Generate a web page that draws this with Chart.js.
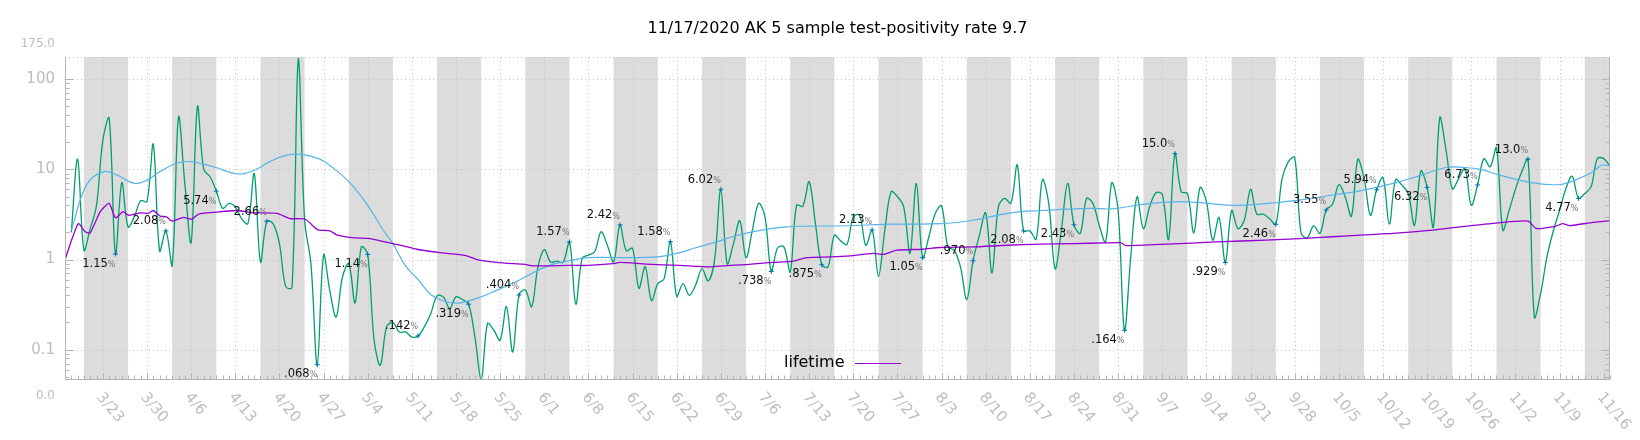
<!DOCTYPE html>
<html>
<head>
<meta charset="utf-8">
<script src="https://cdn.jsdelivr.net/npm/chart.js@4.4.1/dist/chart.umd.min.js"></script>
<style>
  html, body { margin: 0; padding: 0; background: #fff; }
  canvas { display: block; }
</style>
</head>
<body>
<canvas id="chart" width="1640" height="440" style="width:1640px;height:440px"></canvas>
<script>
// days counted from 3/17/2020 (day 0) to 11/17/2020 (day 245)
const DAY_MAX = 245;

// 5 sample test-positivity rate, one value per day (day 0 has none)
const sampleRate = [
  null, 2.0, 13, 1.27, 2.2, 4.0, 21, 37, 1.15, 7.1,
  2.3, 3.0, 4.5, 4.4, 19, 1.24, 2.08, 0.86, 38, 7,
  1.55, 50, 10, 8.3, 5.74, 3.7, 4.2, 3.85, 2.85, 2.5,
  9.0, 0.94, 2.66, 2.5, 1.5, 0.5, 0.49, 170, 2.7, 0.9,
  0.068, 1.12, 0.45, 0.23, 0.64, 0.9, 0.33, 1.38, 1.14, 0.13,
  0.067, 0.18, 0.2, 0.157, 0.157, 0.138, 0.142, 0.18, 0.25, 0.395,
  0.385, 0.285, 0.385, 0.36, 0.319, 0.138, 0.046, 0.195, 0.164, 0.127,
  0.30, 0.094, 0.404, 0.46, 0.30, 0.83, 1.29, 0.94, 0.96, 0.93,
  1.57, 0.32, 1.03, 1.12, 1.22, 2.03, 1.44, 0.94, 2.42, 1.25,
  1.33, 0.48, 0.83, 0.35, 0.54, 0.61, 1.58, 0.39, 0.54, 0.40,
  0.52, 0.79, 0.58, 0.98, 6.02, 0.90, 1.5, 2.69, 1.05, 2.12,
  4.2, 2.98, 0.738, 1.35, 1.38, 0.73, 4.0, 3.9, 7.3, 2.5,
  0.875, 0.83, 1.86, 1.61, 1.47, 2.98, 3.1, 1.44, 2.13, 0.65,
  2.1, 5.65, 5.0, 3.85, 1.17, 7.0, 1.05, 1.8, 3.25, 3.95,
  1.38, 1.27, 0.83, 0.36, 0.970, 1.86, 3.3, 0.71, 3.85, 4.76,
  4.2, 11.2, 2.08, 2.08, 1.68, 7.7, 4.2, 0.79, 2.12, 7.0,
  2.43, 1.95, 4.76, 4.2, 2.4, 1.57, 7.1, 3.5, 0.164, 1.07,
  4.97, 2.2, 3.85, 5.5, 5.3, 1.67, 15.0, 5.65, 5.4, 1.98,
  6.3, 4.4, 1.64, 2.93, 0.929, 3.5, 2.2, 2.73, 6.0, 3.19,
  3.19, 2.85, 2.46, 7.9, 12.2, 13.6, 1.98, 1.74, 2.37, 1.95,
  3.55, 4.1, 6.77, 4.97, 3.03, 12.9, 8.0, 3.1, 5.94, 8.1,
  2.47, 7.7, 6.7, 5.4, 2.4, 9.6, 6.32, 2.3, 37.5, 16.4,
  6.1, 7.9, 10.2, 4.0, 6.73, 13.2, 10.7, 17.4, 2.12, 3.5,
  6.0, 9.4, 13.0, 0.23, 0.42, 1.07, 2.06, 3.5, 6.1, 8.4,
  4.77, 5.4, 6.4, 13.2, 13.2, 10.9
];

// smoothed rate, [day, value]
const smoothRate = [
  [1, 2.1], [3.4, 6.7], [6, 9.4], [8.2, 8.7], [11, 7.0], [13, 7.6], [15, 9.4],
  [17.7, 11.7], [20, 12.2], [23.5, 10.7], [27.5, 8.9], [30, 9.8], [32.5, 12.2],
  [35, 14.3], [37.5, 14.7], [40.4, 13], [42.5, 10.4], [45.2, 7.1], [48, 4],
  [50.5, 2.1], [52, 1.5], [54, 0.85], [56, 0.6], [58, 0.41], [60.5, 0.34],
  [62.7, 0.33], [65.3, 0.37], [68, 0.44], [72, 0.59], [76.4, 0.84], [80, 0.97],
  [83, 1.05], [87, 1.05], [94, 1.07], [97, 1.17], [100, 1.35], [103.3, 1.57],
  [106, 1.8], [109, 2.03], [114.5, 2.3], [124, 2.37], [131, 2.47], [139, 2.5],
  [144, 2.73], [150, 3.3], [155, 3.5], [162.5, 3.7], [166, 3.65], [171, 4.1],
  [177, 4.4], [185, 4.0], [189, 4.1], [196, 4.6], [201, 5.2], [206, 5.9],
  [210.6, 7.0], [215, 8.6], [219, 10.5], [222, 10.5], [224.5, 10.0], [227.6, 8.6],
  [232.8, 7.1], [237, 6.8], [240, 7.9], [242.3, 9.4], [243.7, 11.2], [245, 10.9]
];

// lifetime rate, [day, value]
const lifetimeRate = [
  [0, 1.0], [2.1, 2.5], [3.2, 2.03], [4, 1.98], [5.6, 3.4], [7, 4.2], [8, 2.9],
  [9.2, 3.4], [10.1, 3.1], [12, 3.3], [13.2, 3.25], [14, 3.5], [15.1, 3.03],
  [16.1, 2.98], [17, 2.67], [18.8, 2.93], [20.1, 2.8], [21.2, 3.2], [23.5, 3.33],
  [27.2, 3.5], [30, 3.3], [33.6, 3.25], [35.7, 2.85], [38.1, 2.8], [40, 2.15],
  [42, 2.08], [43.1, 1.88], [45.5, 1.75], [48.4, 1.71], [50, 1.61], [53.6, 1.42],
  [55.8, 1.3], [58.4, 1.22], [60.5, 1.17], [63.7, 1.1], [65.3, 1.0], [68.4, 0.93],
  [71.1, 0.9], [72.7, 0.89], [74.3, 0.85], [80, 0.86], [83, 0.86], [86.9, 0.9],
  [88, 0.93], [92.2, 0.89], [97.5, 0.86], [102.3, 0.83], [104.4, 0.85], [108, 0.88],
  [112.3, 0.93], [115.5, 0.96], [117.6, 1.05], [121.3, 1.07], [124.5, 1.1],
  [128.2, 1.17], [129.8, 1.14], [131.9, 1.27], [136, 1.3], [138.7, 1.36], [144, 1.38],
  [149.3, 1.44], [154.6, 1.48], [159.9, 1.5], [165, 1.53], [167.5, 1.53],
  [168.2, 1.43], [174.7, 1.48], [182.6, 1.57], [190.5, 1.64], [195.8, 1.71],
  [201, 1.79], [206, 1.88], [210.6, 1.95], [216.9, 2.12], [221.2, 2.3], [227.3, 2.55],
  [232, 2.67], [233.3, 2.21], [236.4, 2.35], [237.5, 2.5], [238.6, 2.38],
  [242.3, 2.58], [245, 2.7]
];

// days that carry a value label
const markerDays = [8, 16, 24, 32, 40, 48, 56, 64, 72, 80, 88, 96, 104, 112, 120,
  128, 136, 144, 152, 160, 168, 176, 184, 192, 200, 208, 216, 224, 232, 240];

const tickDays = [6, 13, 20, 27, 34, 41, 48, 55, 62, 69, 76, 83, 90, 97, 104, 111,
  118, 125, 132, 139, 146, 153, 160, 167, 174, 181, 188, 195, 202, 209, 216, 223,
  230, 237, 244];
const tickLabels = ['3/23', '3/30', '4/6', '4/13', '4/20', '4/27', '5/4', '5/11',
  '5/18', '5/25', '6/1', '6/8', '6/15', '6/22', '6/29', '7/6', '7/13', '7/20', '7/27',
  '8/3', '8/10', '8/17', '8/24', '8/31', '9/7', '9/14', '9/21', '9/28', '10/5',
  '10/12', '10/19', '10/26', '11/2', '11/9', '11/16'];

const yTicks = [0.1, 1, 10, 100];
const yTickLabels = ['0.1', '1', '10', '100'];
const Y_MIN = 0.046, Y_MAX = 177;

const FONT = '"DejaVu Sans", "Liberation Sans", sans-serif';

function fmtRate(v){
  return v >= 1 ? v.toPrecision(3) : v.toFixed(3).replace(/^0/, "");
}

const frame = {
  id: "frame",
  beforeDraw(chart){
    const c = chart.ctx;
    c.save();
    c.fillStyle = "#fff";
    c.fillRect(0, 0, chart.width, chart.height);
    c.restore();
  },
  beforeDatasetsDraw(chart){
    const c = chart.ctx, a = chart.chartArea;
    const xs = chart.scales.x, ys = chart.scales.y;
    c.save();
    // alternate week shading
    c.fillStyle = "#dcdcdc";
    for(let s = 3; s < DAY_MAX; s += 14){
      const x0 = xs.getPixelForValue(s);
      const x1 = xs.getPixelForValue(Math.min(s + 7, DAY_MAX));
      c.fillRect(x0, a.top, x1 - x0, a.bottom - a.top);
    }
    // dotted grid
    c.strokeStyle = "#c2c2c2";
    c.lineWidth = 1;
    c.setLineDash([1, 3]);
    c.beginPath();
    tickDays.forEach(d => {
      const x = Math.round(xs.getPixelForValue(d)) + 0.5;
      c.moveTo(x, a.top); c.lineTo(x, a.bottom);
    });
    yTicks.concat([Y_MAX]).forEach(v => {
      const y = Math.round(ys.getPixelForValue(v)) + 0.5;
      c.moveTo(a.left, y); c.lineTo(a.right, y);
    });
    c.stroke();
    c.restore();
  },
  afterDatasetsDraw(chart){
    const c = chart.ctx, a = chart.chartArea;
    const xs = chart.scales.x, ys = chart.scales.y;
    c.save();

    // markers and value labels
    markerDays.forEach(d => {
      const v = sampleRate[d];
      const px = xs.getPixelForValue(d), py = ys.getPixelForValue(v);
      c.strokeStyle = "#0072b2";
      c.lineWidth = 1;
      c.beginPath();
      c.moveTo(px - 2.5, py); c.lineTo(px + 2.5, py);
      c.moveTo(px, py - 2.5); c.lineTo(px, py + 2.5);
      c.stroke();

      const above = v >= sampleRate[d - 1];
      const ty = py + (above ? -9.5 : 9.5);
      c.textBaseline = "middle";
      c.textAlign = "right";
      c.font = "8px " + FONT;
      c.fillStyle = "#777";
      c.fillText("%", px, ty + 1);
      const pw = c.measureText("%").width;
      c.font = "11.5px " + FONT;
      c.fillStyle = "#111";
      c.fillText(fmtRate(v), px - pw, ty);
    });

    // frame
    c.strokeStyle = "#b4b4b4";
    c.lineWidth = 1;
    c.beginPath();
    const L = Math.round(a.left) + 0.5, R = Math.round(a.right) - 0.5, B = Math.round(a.bottom) - 0.5;
    c.moveTo(L, a.top); c.lineTo(L, B); c.lineTo(R, B); c.lineTo(R, a.top);
    // day ticks
    for(let d = 0; d <= DAY_MAX; d++){
      const x = Math.round(xs.getPixelForValue(d)) + 0.5;
      const len = tickDays.includes(d) ? 6 : 4;
      c.moveTo(x, B); c.lineTo(x, B - len);
    }
    // log ticks on both sides
    for(let e = -2; e <= 2; e++){
      for(let m = 1; m <= 9; m++){
        const v = m * Math.pow(10, e);
        if(v < Y_MIN || v > Y_MAX) continue;
        const y = Math.round(ys.getPixelForValue(v)) + 0.5;
        const len = m === 1 ? 8 : 4;
        c.moveTo(L, y); c.lineTo(L + len, y);
        c.moveTo(R, y); c.lineTo(R - len, y);
      }
    }
    c.stroke();

    // y labels
    c.fillStyle = "#bdbdbd";
    c.textAlign = "right";
    c.textBaseline = "middle";
    c.font = "15px " + FONT;
    yTicks.forEach((v, i) => {
      c.fillText(yTickLabels[i], a.left - 10, ys.getPixelForValue(v));
    });
    c.font = "12px " + FONT;
    c.fillText("175.0", a.left - 10, a.top - 13);
    c.fillText("0.0", a.left - 10, a.bottom + 16);

    // x labels, rotated down to the right
    c.font = "15px " + FONT;
    c.textAlign = "left";
    c.textBaseline = "top";
    tickDays.forEach((d, i) => {
      c.save();
      c.translate(xs.getPixelForValue(d) + 2, a.bottom + 10);
      c.rotate(50 * Math.PI / 180);
      c.fillText(tickLabels[i], 0, 0);
      c.restore();
    });

    // legend entry
    c.font = "16px " + FONT;
    c.fillStyle = "#000";
    c.textAlign = "left";
    c.textBaseline = "middle";
    c.fillText("lifetime", 784, 363);
    c.strokeStyle = "#9400d3";
    c.lineWidth = 1.2;
    c.beginPath();
    c.moveTo(855, 363.5); c.lineTo(901, 363.5);
    c.stroke();

    // title
    c.font = "16px " + FONT;
    c.textAlign = "center";
    c.fillText("11/17/2020 AK 5 sample test-positivity rate 9.7", (a.left + a.right) / 2, 29);
    c.restore();
  }
};

const samplePoints = [];
sampleRate.forEach((v, d) => { if(v !== null) samplePoints.push({x: d, y: v}); });

new Chart(document.getElementById("chart"), {
  type: "line",
  data: {
    datasets: [
      {
        label: "lifetime",
        data: lifetimeRate.map(p => ({x: p[0], y: p[1]})),
        borderColor: "#9400d3",
        borderWidth: 1.3,
        pointRadius: 0,
        tension: 0.2,
        order: 1
      },
      {
        label: "smoothed",
        data: smoothRate.map(p => ({x: p[0], y: p[1]})),
        borderColor: "#56b4e9",
        borderWidth: 1.2,
        pointRadius: 0,
        tension: 0.4,
        order: 2
      },
      {
        label: "5 sample",
        data: samplePoints,
        borderColor: "#009e73",
        borderWidth: 1.3,
        pointRadius: 0,
        tension: 0.35,
        order: 3
      }
    ]
  },
  options: {
    responsive: false,
    animation: false,
    layout: { padding: { left: 65, right: 30, top: 57, bottom: 60 } },
    scales: {
      x: { type: "linear", min: 0, max: DAY_MAX, display: false },
      y: { type: "logarithmic", min: Y_MIN, max: Y_MAX, display: false }
    },
    plugins: {
      legend: { display: false },
      tooltip: { enabled: false }
    }
  },
  plugins: [frame]
});
</script>
</body>
</html>
